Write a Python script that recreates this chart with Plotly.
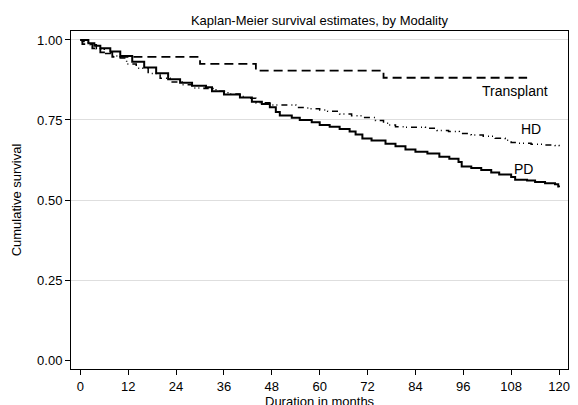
import plotly.graph_objects as go

# ---- data ----
pd_time = [0, 1.3, 2, 3.5, 5, 7.5, 10, 13, 16, 19, 22, 25, 28, 31.5, 33, 36, 40, 43, 45.5,
           47.5, 49, 50, 53, 55, 58, 60, 62.5, 65, 67.5, 69, 70.7, 73, 76.5, 79, 81.5, 84,
           87, 90, 92.5, 94.8, 95.6, 98, 100.5, 103, 105, 108, 109, 112, 114, 116.5, 119,
           119.8, 120]
pd_surv = [1.000, 1.000, 0.990, 0.982, 0.974, 0.964, 0.950, 0.932, 0.914, 0.896, 0.877,
           0.866, 0.857, 0.852, 0.840, 0.830, 0.820, 0.807, 0.800, 0.790, 0.775, 0.764,
           0.757, 0.750, 0.743, 0.734, 0.729, 0.722, 0.714, 0.705, 0.692, 0.686, 0.676,
           0.668, 0.658, 0.651, 0.645, 0.635, 0.629, 0.619, 0.605, 0.600, 0.594, 0.586,
           0.580, 0.572, 0.563, 0.561, 0.556, 0.552, 0.549, 0.542, 0.540]

hd_time = [0, 0.5, 2, 4, 6, 8, 10, 11.6, 14, 17, 20, 22.5, 25.5, 28, 31, 34, 37, 40, 41.6,
           44, 48, 51.5, 54, 57, 60, 62, 65, 68, 70.7, 74, 76, 77.3, 79, 81.5, 86.5, 89.4,
           92.3, 95, 98, 101, 104, 106.5, 108, 109, 113, 116, 119, 120]
hd_surv = [1.000, 0.995, 0.985, 0.972, 0.958, 0.950, 0.944, 0.925, 0.912, 0.895, 0.880,
           0.869, 0.860, 0.850, 0.848, 0.840, 0.831, 0.823, 0.818, 0.804, 0.797, 0.797,
           0.789, 0.785, 0.781, 0.777, 0.769, 0.763, 0.758, 0.748, 0.740, 0.734, 0.729,
           0.727, 0.724, 0.717, 0.714, 0.708, 0.703, 0.699, 0.693, 0.687, 0.680, 0.677,
           0.674, 0.672, 0.670, 0.665]

tx_time = [0, 0.5, 3, 5, 8, 30, 44, 76, 112]
tx_surv = [1.000, 0.987, 0.974, 0.961, 0.947, 0.925, 0.904, 0.882, 0.882]

x_ticks = [0, 12, 24, 36, 48, 60, 72, 84, 96, 108, 120]
y_ticks = [0, 0.25, 0.5, 0.75, 1.0]

curve_labels = ["Transplant", "HD", "PD"]
label_x = [109, 113, 111]
label_y = [0.839, 0.722, 0.597]

FONT = "Liberation Sans, Arial, sans-serif"

fig = go.Figure()
fig.add_trace(go.Scatter(x=pd_time, y=pd_surv, mode="lines", line_shape="hv",
                         line=dict(color="black", width=2), name="PD"))
fig.add_trace(go.Scatter(x=hd_time, y=hd_surv, mode="lines", line_shape="hv",
                         line=dict(color="black", width=1.5, dash="6px,4px,1px,3px,1px,4px"),
                         name="HD"))
fig.add_trace(go.Scatter(x=tx_time, y=tx_surv, mode="lines", line_shape="hv",
                         line=dict(color="black", width=1.8, dash="9px,5px"),
                         name="Transplant"))

for txt, lx, ly in zip(curve_labels, label_x, label_y):
    fig.add_annotation(x=lx, y=ly, xref="x", yref="y", text=txt, showarrow=False,
                       font=dict(family=FONT, size=14, color="black"))

fig.add_annotation(x=0.5, y=-0.068, xref="paper", yref="paper", text="Duration in months",
                   showarrow=False, yanchor="top",
                   font=dict(family=FONT, size=13, color="black"))

fig.update_layout(
    width=578, height=405,
    margin=dict(l=71, r=8, t=31, b=36),
    paper_bgcolor="white", plot_bgcolor="white",
    showlegend=False,
    font=dict(family=FONT, size=13, color="black"),
    title=dict(text="Kaplan-Meier survival estimates, by Modality", x=0.5, xref="paper",
               y=1 - 20 / 405, yanchor="middle", font=dict(family=FONT, size=13, color="black")),
    xaxis=dict(range=[-2.35, 122.25], tickvals=x_ticks, ticks="outside", ticklen=5,
               tickcolor="black", showline=True, linecolor="black", linewidth=1, mirror=True,
               showgrid=False, zeroline=False, tickfont=dict(size=13)),
    yaxis=dict(range=[-0.028, 1.028], tickvals=y_ticks, tickformat=".2f", ticks="outside",
               ticklen=5, tickcolor="black", showline=True, linecolor="black", linewidth=1,
               mirror=True, showgrid=True, gridcolor="#dedede", gridwidth=1,
               zeroline=True, zerolinecolor="white", zerolinewidth=1,
               title=dict(text="Cumulative survival", font=dict(size=13), standoff=12),
               tickfont=dict(size=13)),
)

fig.write_html("out.html", config={"displayModeBar": False},
               post_script="document.body.style.margin='0px';")
